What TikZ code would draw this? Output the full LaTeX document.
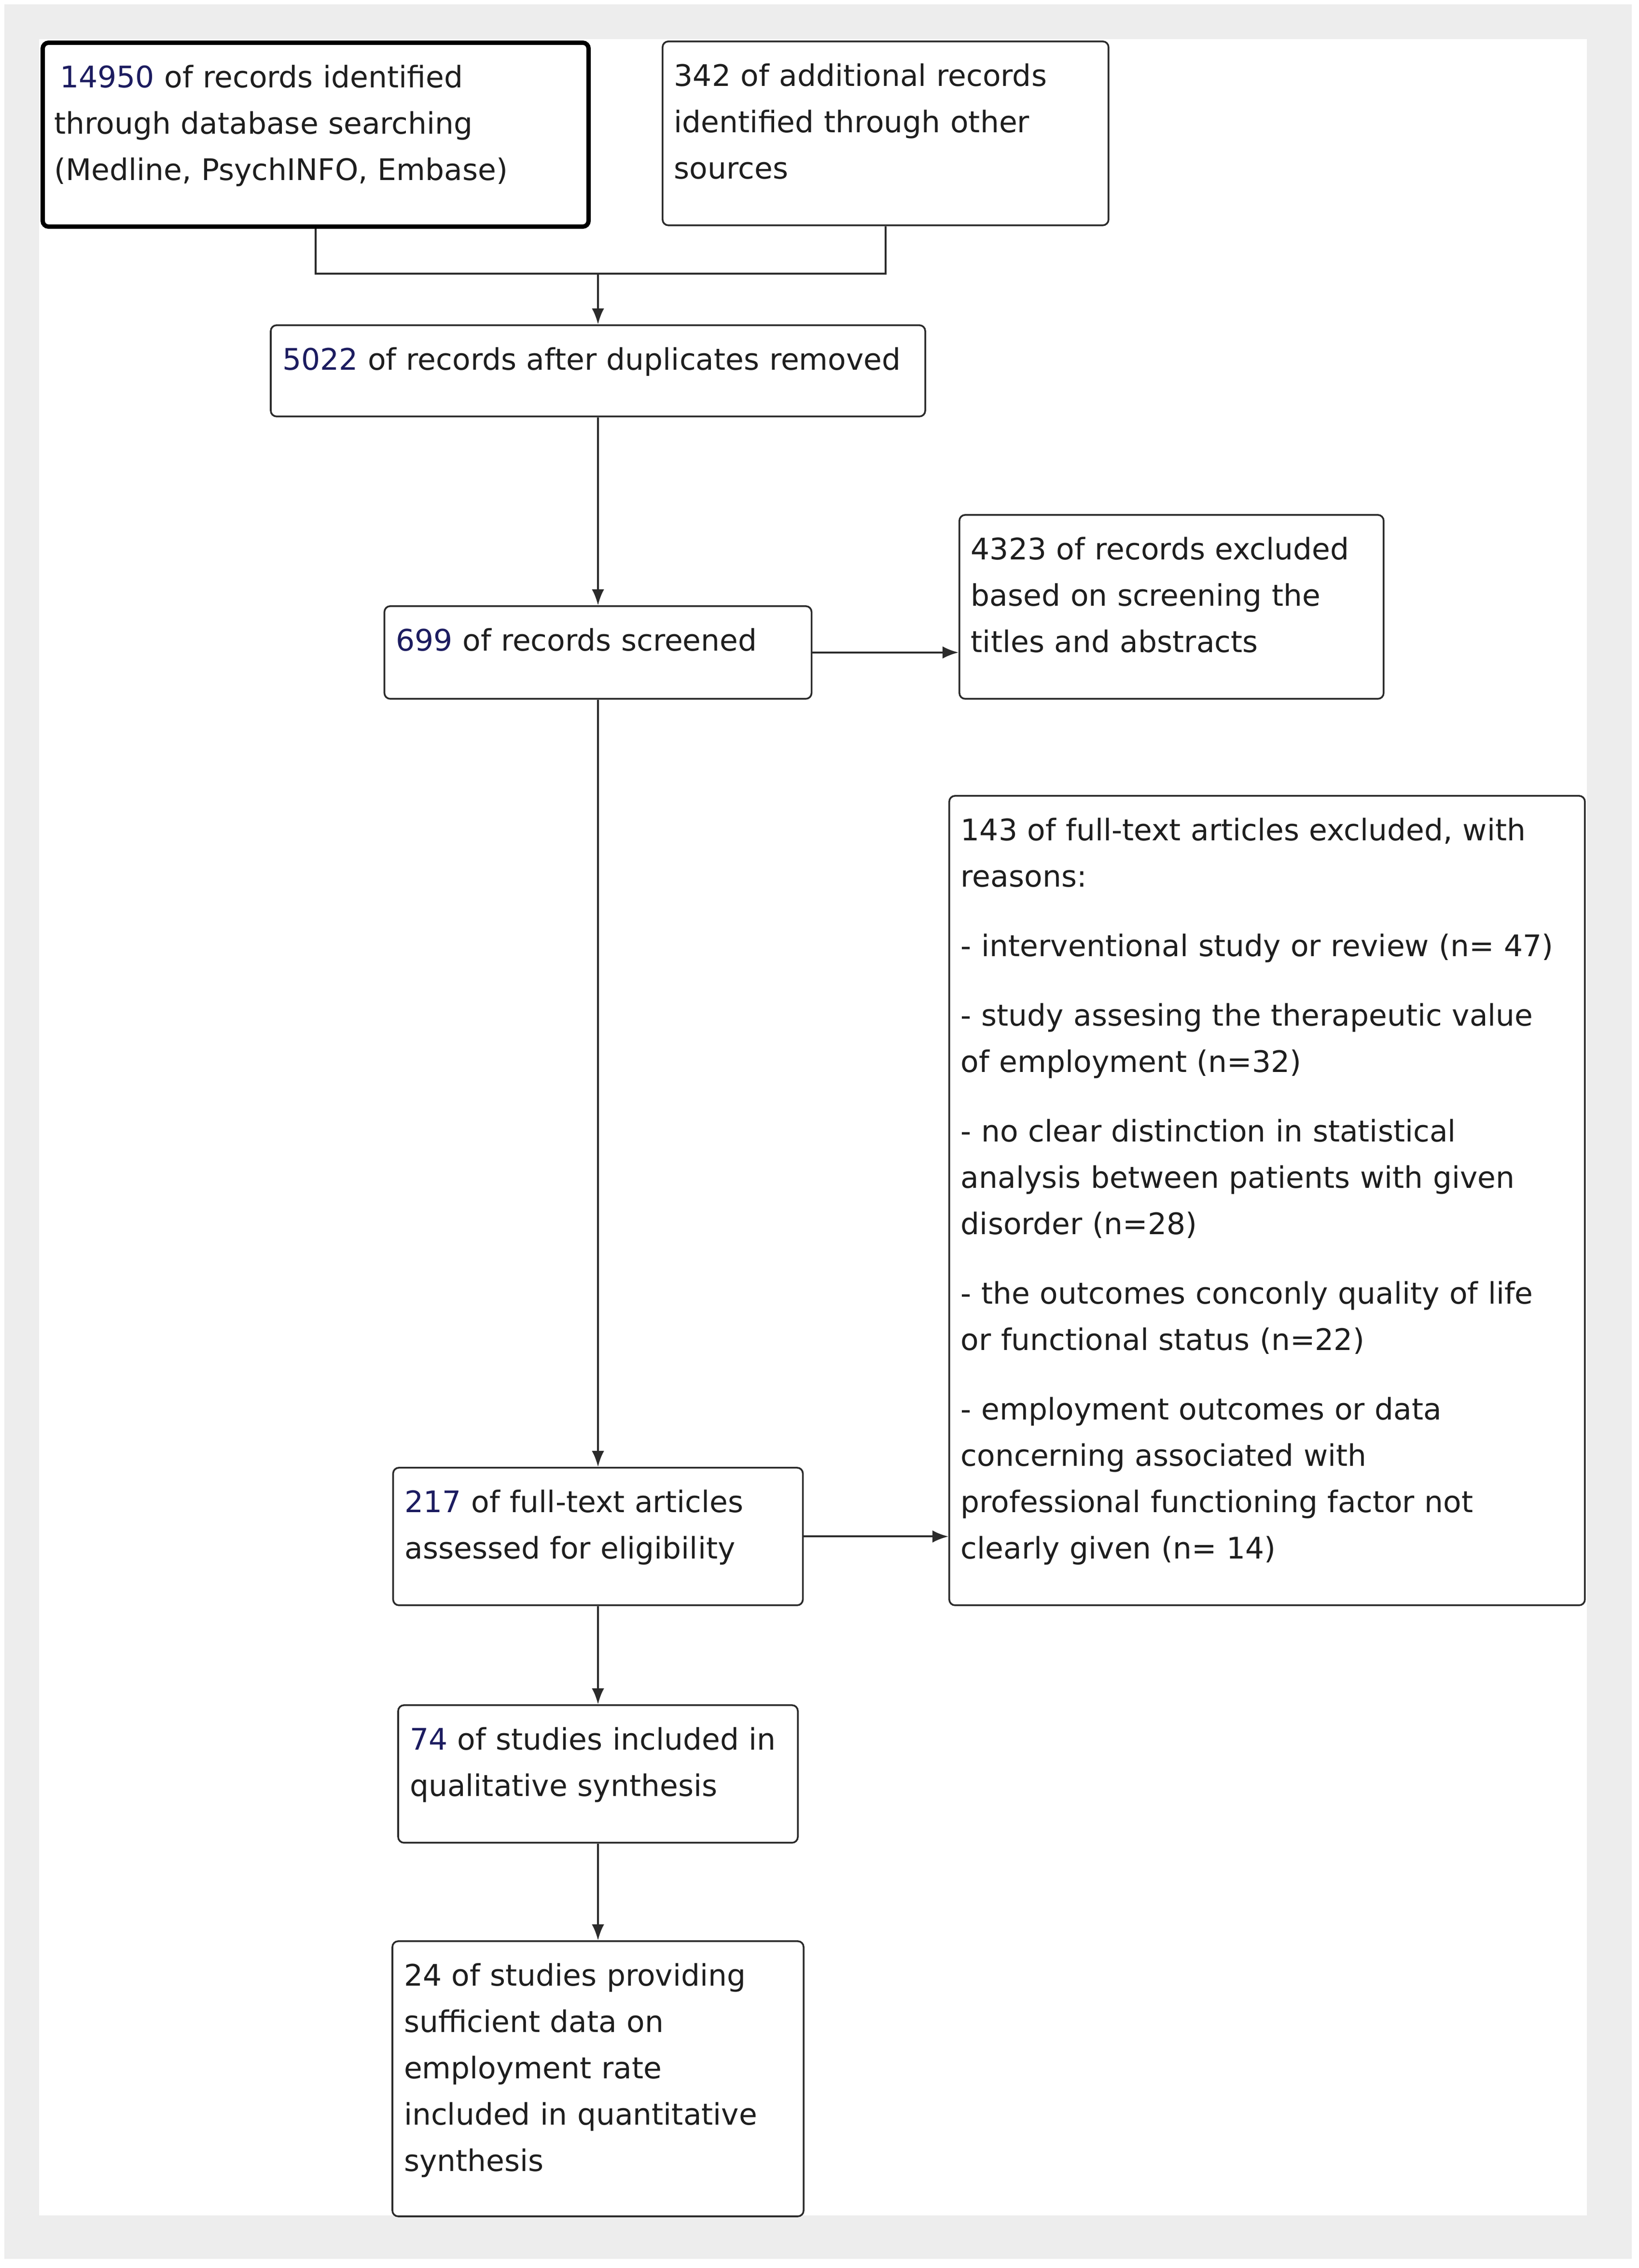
\documentclass[tikz,border=0pt]{standalone}
\usepackage{fontspec}
\newfontfamily\prismafont{DejaVu Sans}
\usetikzlibrary{arrows.meta}

\definecolor{framegray}{HTML}{EDEDED}
\definecolor{numblue}{RGB}{28,28,96}
\definecolor{textgray}{HTML}{1E1E1E}
\definecolor{linegray}{HTML}{2B2B2B}

\begin{document}
\begin{tikzpicture}[x=1pt, y=-1pt,
  stage/.style={draw=linegray, line width=1.2pt, rounded corners=4pt, fill=white,
    anchor=north west, inner xsep=8pt, inner ysep=0pt, text height=31pt,
    align=left, text=textgray, font=\prismafont\fontsize{20.5}{32}\selectfont},
  link/.style={draw=linegray, line width=1.3pt},
  arrow/.style={link, -{Latex[length=11pt,width=8.5pt]}}]

  % --- page and panel ---
  \fill[white] (0,0) rectangle (1131.7,1566.3);
  \fill[framegray] (3,3) rectangle (1127,1560);
  \fill[white] (27,27) rectangle (1096,1530);

  % --- identification ---
  \node[stage, draw=black, line width=3pt, text width=361pt, text depth=96pt] (db) at (28,28)
    {\hspace*{4pt}\textcolor{numblue}{14950} of records identified\\ through database searching\\ (Medline, PsychINFO, Embase)};
  \node[stage, text width=292pt, text depth=96pt] (other) at (457,28)
    {342 of additional records\\ identified through other\\ sources};

  % --- screening ---
  \node[stage, anchor=north, text width=436pt, text depth=32pt] (dedup) at (413,224)
    {\textcolor{numblue}{5022} of records after duplicates removed};
  \node[stage, anchor=north, text width=279pt, text depth=33pt] (screened) at (413,418)
    {\textcolor{numblue}{699} of records screened};
  \node[stage, text width=277pt, text depth=96pt] (excl1) at (662,355)
    {4323 of records excluded\\ based on screening the\\ titles and abstracts};

  % --- eligibility ---
  \node[stage, anchor=north, text width=267pt, text depth=64pt] (fulltext) at (413,1013)
    {\textcolor{numblue}{217} of full-text articles\\ assessed for eligibility};
  \node[stage, text width=423pt, text depth=528pt] (excl2) at (655,549)
    {143 of full-text articles excluded, with\\ reasons:\\[16pt]
     - interventional study or review (n= 47)\\[16pt]
     - study assesing the therapeutic value\\ of employment (n=32)\\[16pt]
     - no clear distinction in statistical\\ analysis between patients with given\\ disorder (n=28)\\[16pt]
     - the outcomes conconly quality of life\\ or functional status (n=22)\\[16pt]
     - employment outcomes or data\\ concerning associated with\\ professional functioning factor not\\ clearly given (n= 14)};

  % --- included ---
  \node[stage, anchor=north, text width=260pt, text depth=64pt] (qual) at (413,1177)
    {\textcolor{numblue}{74} of studies included in\\ qualitative synthesis};
  \node[stage, anchor=north, text width=268pt, text depth=159pt] (quant) at (413,1340)
    {24 of studies providing\\ sufficient data on\\ employment rate\\ included in quantitative\\ synthesis};

  % --- connectors ---
  \coordinate (merge) at (413,189);
  \draw[link] (db.south) |- (merge) -| (other.south);
  \draw[arrow] (merge) -- (dedup.north);
  \draw[arrow] (dedup) -- (screened);
  \draw[arrow] (screened.east) -- (screened.east -| excl1.west);
  \draw[arrow] (screened) -- (fulltext);
  \draw[arrow] (fulltext.east) -- (fulltext.east -| excl2.west);
  \draw[arrow] (fulltext) -- (qual);
  \draw[arrow] (qual) -- (quant);

\end{tikzpicture}
\end{document}
